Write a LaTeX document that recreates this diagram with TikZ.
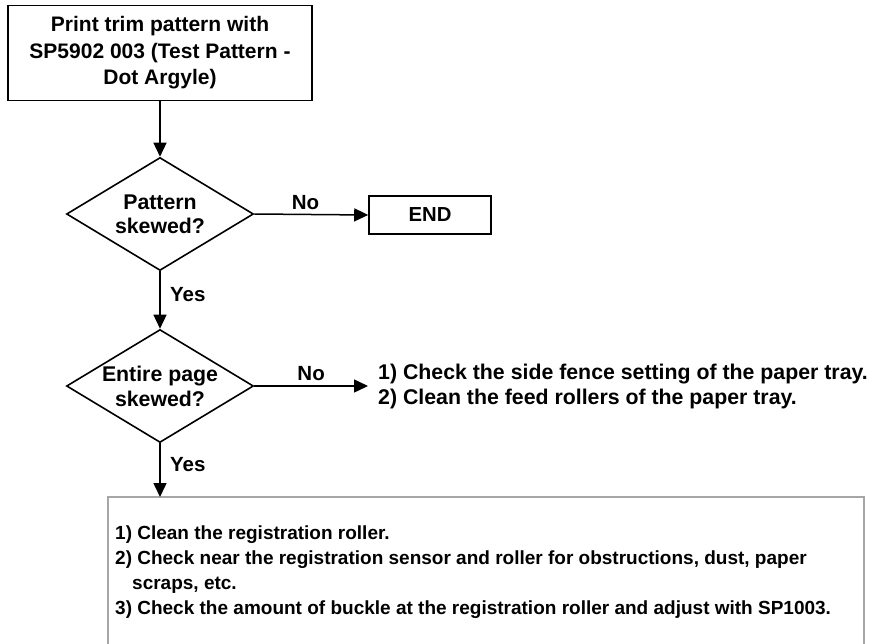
\documentclass[tikz,border=0pt]{standalone}
\usepackage{fontspec}
\setmainfont{Liberation Sans}
\usetikzlibrary{shapes.geometric,arrows.meta}
\begin{document}
\begin{tikzpicture}[x=1pt,y=-1pt,
  every node/.style={font=\bfseries},
  boxstyle/.style={draw, line width=1.6pt, inner sep=0pt},
  decision/.style={draw, diamond, line width=1.6pt, inner sep=0pt, minimum width=187pt, minimum height=113pt},
  conn/.style={line width=1.5pt, -{Triangle[length=14pt,width=13pt]}},
  lbl/.style={font=\fontsize{20.5}{22}\selectfont\bfseries},
  txt/.style={align=left, anchor=north west, inner sep=0pt}
]
\useasboundingbox (0,0) rectangle (874,644);
\fill[white] (0,0) rectangle (874,644);

\node[boxstyle, minimum width=304pt, minimum height=95pt, align=center,
      font=\fontsize{21}{26.5}\selectfont\bfseries] (start) at (160,53)
  {Print trim pattern with\\SP5902 003 (Test Pattern -\\Dot Argyle)};

\node[decision] (d1) at (160,214) {};
\node[align=center, font=\fontsize{21.3}{24}\selectfont\bfseries] at (d1) {Pattern\\skewed?};

\node[boxstyle, minimum width=122pt, minimum height=38pt, font=\fontsize{20.3}{22}\selectfont\bfseries] (end) at (430,215) {END};

\node[decision] (d2) at (160,386) {};
\node[align=center, font=\fontsize{21.3}{25}\selectfont\bfseries] at (d2) {Entire page\\skewed?};

\coordinate (a2) at (368,386);
\node[txt, font=\fontsize{21.3}{25}\selectfont\bfseries] (side) at (378,364)
  {1) Check the side fence setting of the paper tray.\\2) Clean the feed rollers of the paper tray.};

\draw[line width=1.5pt, draw=black!35] (108,660) rectangle (864,497);
\coordinate (boxtop) at (160,497);
\node[txt, font=\fontsize{19}{25}\selectfont\bfseries] (steps) at (115,526) {1) Clean the registration roller.\\
2) Check near the registration sensor and roller for obstructions, dust, paper\\
\hspace*{17pt}scraps, etc.\\
3) Check the amount of buckle at the registration roller and adjust with SP1003.};

\draw[conn] (start.south) -- (d1.north);
\draw[conn] (d1.east) -- node[lbl, above=1pt, pos=0.45] {No} (end.west);
\draw[conn] (d1.south) -- node[lbl, right=6pt, pos=0.4] {Yes} (d2.north);
\draw[conn] (d2.east) -- node[lbl, above=1pt, pos=0.5] {No} (a2);
\draw[conn] (d2.south) -- node[lbl, right=6pt, pos=0.4] {Yes} (boxtop);
\end{tikzpicture}
\end{document}
